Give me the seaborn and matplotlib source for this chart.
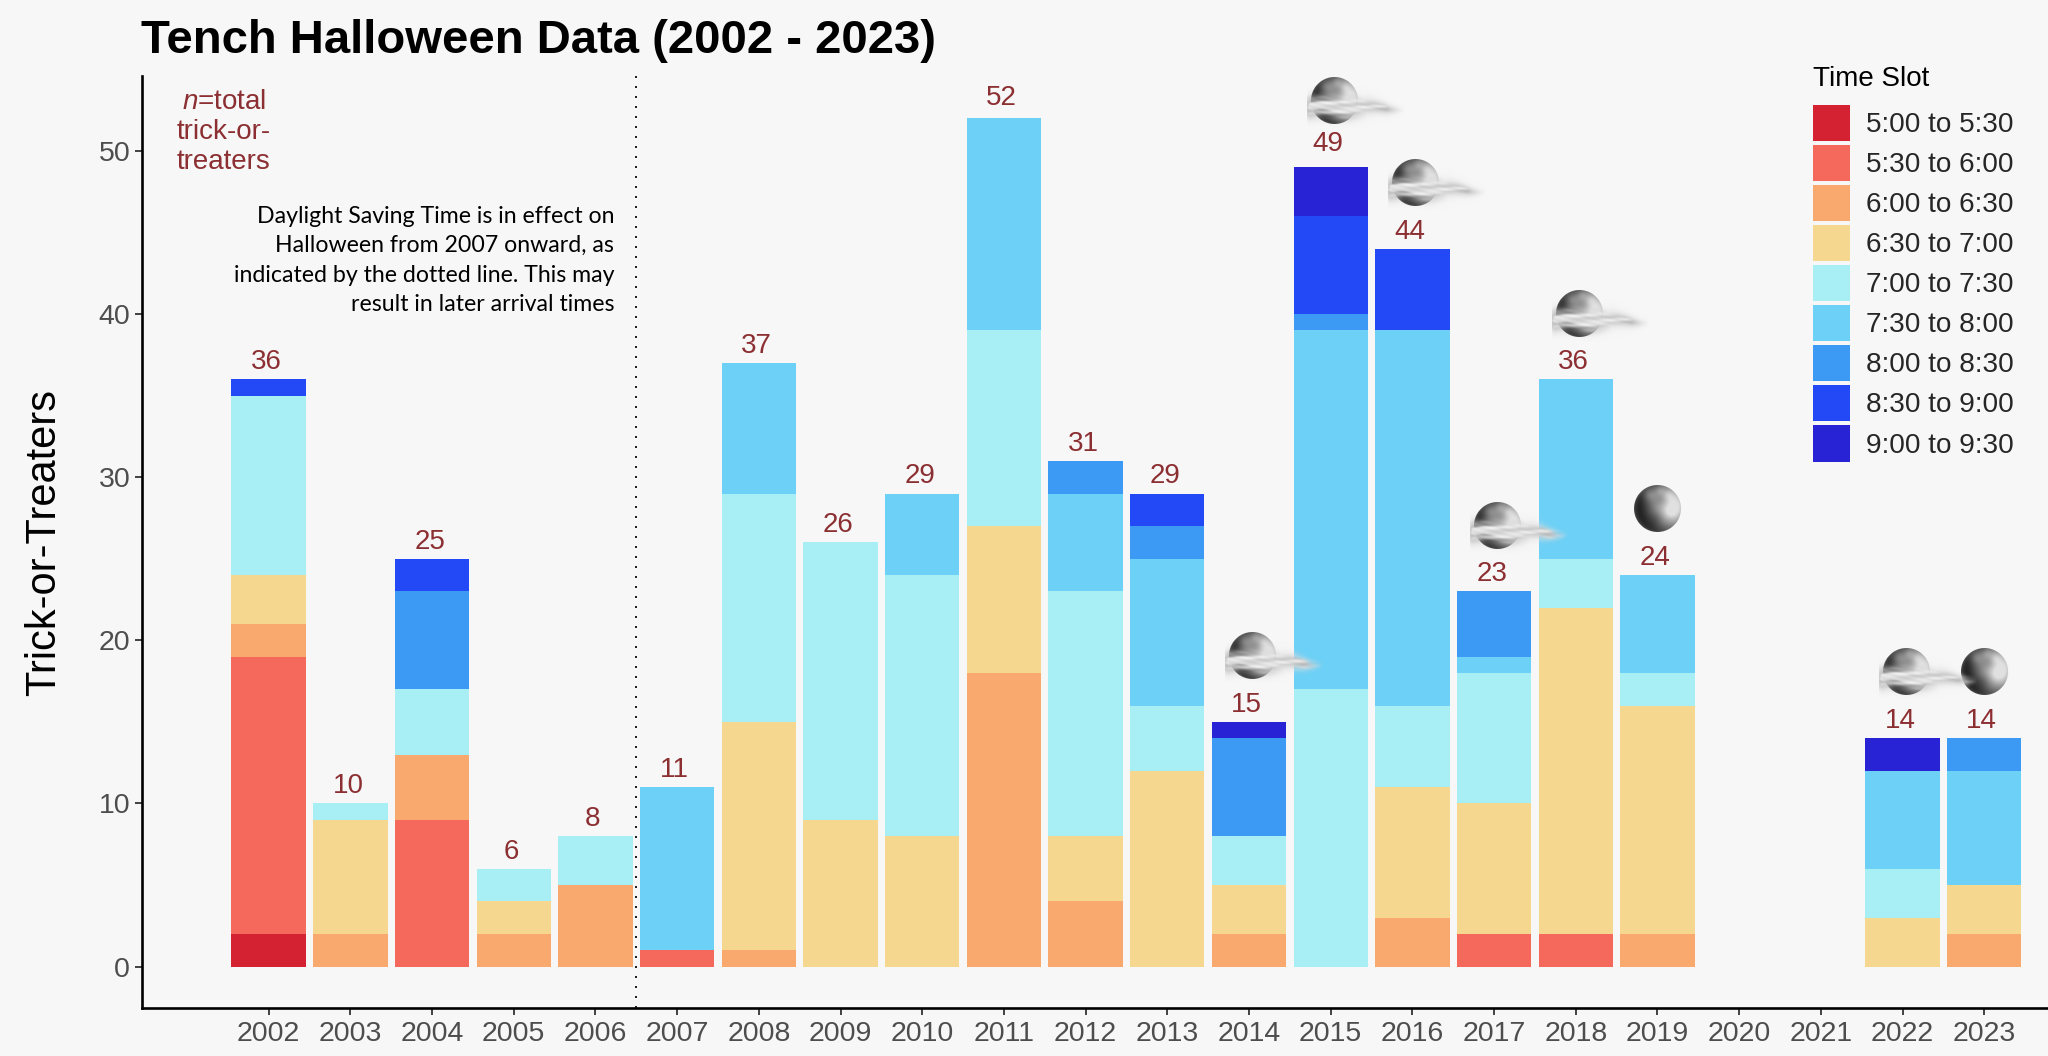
import numpy as np
import pandas as pd
import matplotlib
matplotlib.use("Agg")
import matplotlib.pyplot as plt
from matplotlib.patches import Patch
from matplotlib.offsetbox import OffsetImage, AnnotationBbox
import seaborn as sns

# Data
years = list(range(2002, 2024))
slots = ["5:00 to 5:30", "5:30 to 6:00", "6:00 to 6:30", "6:30 to 7:00", "7:00 to 7:30",
         "7:30 to 8:00", "8:00 to 8:30", "8:30 to 9:00", "9:00 to 9:30"]
colors = ["#d42233", "#f4695c", "#f9a86e", "#f6d790", "#a7eff5",
          "#6dd0f6", "#3d9af4", "#2348f6", "#2823d4"]

#       2002 03 04 05 06 07  08  09  10  11  12  13  14  15  16  17  18  19 20 21 22 23
s0500 = [2,  0, 0, 0, 0, 0,  0,  0,  0,  0,  0,  0,  0,  0,  0,  0,  0,  0, 0, 0, 0, 0]
s0530 = [17, 0, 9, 0, 0, 1,  0,  0,  0,  0,  0,  0,  0,  0,  0,  2,  2,  0, 0, 0, 0, 0]
s0600 = [2,  2, 4, 2, 5, 0,  1,  0,  0, 18,  4,  0,  2,  0,  3,  0,  0,  2, 0, 0, 0, 2]
s0630 = [3,  7, 0, 2, 0, 0, 14,  9,  8,  9,  4, 12,  3,  0,  8,  8, 20, 14, 0, 0, 3, 3]
s0700 = [11, 1, 4, 2, 3, 0, 14, 17, 16, 12, 15,  4,  3, 17,  5,  8,  3,  2, 0, 0, 3, 0]
s0730 = [0,  0, 0, 0, 0, 10, 8,  0,  5, 13,  6,  9,  0, 22, 23,  1, 11,  6, 0, 0, 6, 7]
s0800 = [0,  0, 6, 0, 0, 0,  0,  0,  0,  0,  2,  2,  6,  1,  0,  4,  0,  0, 0, 0, 0, 2]
s0830 = [1,  0, 2, 0, 0, 0,  0,  0,  0,  0,  0,  2,  0,  6,  5,  0,  0,  0, 0, 0, 0, 0]
s0900 = [0,  0, 0, 0, 0, 0,  0,  0,  0,  0,  0,  0,  1,  3,  0,  0,  0,  0, 0, 0, 2, 0]
slot_counts = [s0500, s0530, s0600, s0630, s0700, s0730, s0800, s0830, s0900]

cloudy_years = [2014, 2015, 2016, 2017, 2018, 2022]
clear_years = [2019, 2023]

df = pd.DataFrame({"year": years * len(slots),
                   "slot": [s for s in slots for _ in years],
                   "count": np.concatenate(slot_counts)})
totals = df.groupby("year")["count"].sum()


# Moon icon, drawn as a small RGBA picture
def moon_icon(cloudy):
    h, w, cx, cy, r = 64, 124, 27, 30, 24
    yy, xx = np.mgrid[0:h, 0:w]
    u = (xx - cx) / r
    v = (yy - cy) / r
    rho = np.sqrt(u ** 2 + v ** 2)
    nz = np.sqrt(np.clip(1 - rho ** 2, 0, 1))
    lit = np.clip(0.6 * u - 0.12 * v + 0.78 * nz, 0, 1)
    val = 0.1 + 0.8 * lit ** 1.8 + 0.32 * (1 - nz) ** 2
    for bx, by, bs, ba in [(0.2, -0.35, 0.28, -0.12), (0.55, 0.15, 0.25, 0.1), (-0.05, 0.4, 0.3, -0.08),
                           (0.45, -0.55, 0.2, 0.08), (-0.35, -0.6, 0.3, 0.2), (0.1, -0.75, 0.2, 0.1)]:
        val += ba * np.exp(-((u - bx) ** 2 + (v - by) ** 2) / bs ** 2)
    val = np.clip(val, 0, 0.88)
    alpha = np.clip((1 - rho) * r, 0, 1)
    if cloudy:
        centre = 0.28 + 0.06 * np.sin(u * 3.1) + 0.04 * np.clip(u - 1.0, 0, 2)
        width = np.where(u < 1.4, 0.36, 0.36 - 0.16 * (u - 1.4))
        width = np.clip(width, 0.05, None)
        puff = np.exp(-((v - centre) / width) ** 2)
        streak = 0.84 + 0.09 * np.sin(v * 17 + u * 2.1) + 0.07 * np.sin(v * 29 - u * 3.3 + 1) * np.sin(u * 4.1)
        fade = np.clip((2.95 - u) / 0.8, 0, 1) * np.clip((u + 1.3) / 0.3, 0, 1)
        cloud = np.clip(puff * streak * fade * 1.4, 0, 1)
        shade = 0.95 - 0.55 * (1 - streak) - 0.05 * np.clip(u - 1, 0, 2)
        val = val * (1 - cloud) + shade * cloud
        alpha = 1 - (1 - alpha) * (1 - cloud)
    img = np.dstack([val, val, val, alpha])
    return img, ((cx + (-3 if cloudy else 0)) / w, 1 - cy / h)


sns.set_theme(style="ticks")
plt.rcParams["font.family"] = ["Liberation Sans", "DejaVu Sans"]
plt.rcParams["mathtext.fontset"] = "custom"
plt.rcParams["mathtext.it"] = "Liberation Sans:italic"
plt.rcParams["mathtext.rm"] = "Liberation Sans"

bg = "#f7f7f7"
label_red = "#8c2f32"
fig = plt.figure(figsize=(20.48, 10.56), dpi=100, facecolor=bg)
ax = fig.add_axes([142 / 2048, 48 / 1056, 1906 / 2048, 932 / 1056], facecolor=bg)

sns.histplot(data=df, x="year", weights="count", hue="slot", hue_order=slots[::-1],
             palette=dict(zip(slots, colors)), multiple="stack", discrete=True, shrink=0.91,
             alpha=1, linewidth=0, legend=False, ax=ax)

ax.set_xlim(2000.45, 2023.78)
ax.set_ylim(-2.54, 54.6)
ax.set_xticks(years)
ax.set_yticks([0, 10, 20, 30, 40, 50])
ax.tick_params(axis="both", labelsize=20.5, labelcolor="#4d4d4d", color="#333333", length=5, width=1.3)
ax.tick_params(axis="x", pad=4.5)
ax.set_xlabel("")
ax.set_ylabel("Trick-or-Treaters", fontsize=30, color="black", labelpad=25)
sns.despine(ax=ax)
ax.spines["left"].set_linewidth(1.9)
ax.spines["bottom"].set_linewidth(1.9)
ax.spines["left"].set_color("black")
ax.spines["bottom"].set_color("black")

ax.axvline(2006.5, color="#222222", lw=1.44, ls=(0, (1, 4)))

# Totals above the bars, the two tallest sit a little higher
for yr, tot in totals.items():
    if tot > 0:
        lift = {2011: 1.25, 2015: 1.45}.get(yr, 1.05)
        ax.text(yr - 0.03, tot + lift, str(tot), ha="center", va="center", fontsize=20, color=label_red)

# Moons
for yr_list, is_cloudy in [(clear_years, False), (cloudy_years, True)]:
    img, align = moon_icon(is_cloudy)
    for yr in yr_list:
        box = OffsetImage(img, zoom=0.72)
        ab = AnnotationBbox(box, (yr, totals[yr] + 4.1), xycoords="data", box_alignment=align,
                            frameon=False, pad=0, zorder=5)
        ax.add_artist(ab)

ax.text(2001.45, 51.15, "$\\mathit{n}$=total\ntrick-or-\ntreaters", ha="center", va="center",
        fontsize=20, color=label_red, linespacing=1.2)
ax.text(2006.23, 43.3,
        "Daylight Saving Time is in effect on\nHalloween from 2007 onward, as\n"
        "indicated by the dotted line. This may\nresult in later arrival times",
        ha="right", va="center", fontsize=16.7, color="black", family="Lato", linespacing=1.5)

fig.text(141 / 2048, 1 - 41 / 1056, "Tench Halloween Data (2002 - 2023)", fontsize=34, fontweight="bold",
         color="black", ha="left", va="center")

handles = [Patch(facecolor=c, edgecolor="none", label=s) for c, s in zip(colors, slots)]
leg = fig.legend(handles=handles, title="Time Slot", loc="upper left",
                 bbox_to_anchor=(1813 / 2048, 1 - 66 / 1056), frameon=False, fontsize=20.2, title_fontsize=20,
                 handlelength=1.33, handleheight=1.62, labelspacing=0.13, handletextpad=0.57,
                 borderpad=0, borderaxespad=0, alignment="left")
leg.get_title().set_color("black")
leg._legend_box.sep = 9.1

fig.savefig("out.png", dpi=100, facecolor=bg)
